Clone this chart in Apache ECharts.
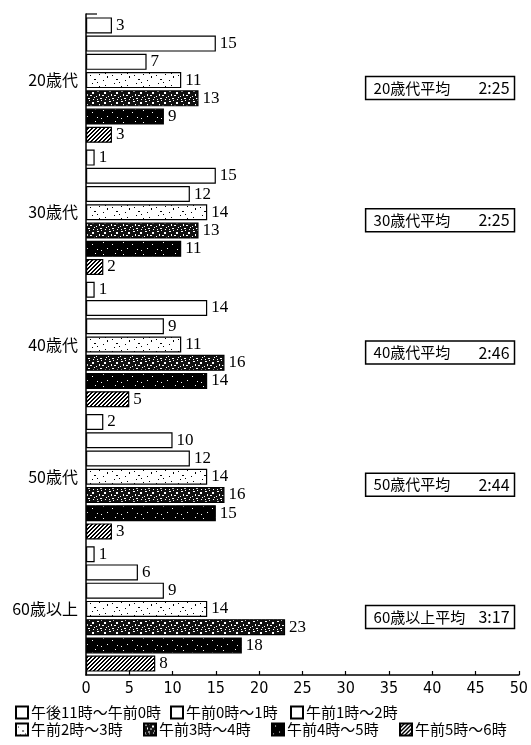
<!DOCTYPE html>
<html><head><meta charset="utf-8">
<script src="https://cdn.jsdelivr.net/npm/echarts@6/dist/echarts.min.js"></script>
<style>html,body{margin:0;padding:0;background:#fff}#chart{width:531px;height:745px}</style>
</head><body><div id="chart"></div>
<script>
// Age groups (category axis, top to bottom)
const ageGroups = ['20歳代', '30歳代', '40歳代', '50歳代', '60歳以上'];
// Time slots, one series each
const timeSlots = ['午後11時～午前0時', '午前0時～1時', '午前1時～2時', '午前2時～3時', '午前3時～4時', '午前4時～5時', '午前5時～6時'];
// Values per time slot, in age-group order
const slot2300 = [3, 1, 1, 2, 1];
const slot0000 = [15, 15, 14, 10, 6];
const slot0100 = [7, 12, 9, 12, 9];
const slot0200 = [11, 14, 11, 14, 14];
const slot0300 = [13, 13, 16, 16, 23];
const slot0400 = [9, 11, 14, 15, 18];
const slot0500 = [3, 2, 5, 3, 8];
// Average times shown in the boxes
const averageTimes = ['2:25', '2:25', '2:46', '2:44', '3:17'];
const averageCaptions = ['20歳代平均', '30歳代平均', '40歳代平均', '50歳代平均', '60歳以上平均'];
// Value axis range
const axisMin = 0, axisMax = 50, axisStep = 5;

const seriesValues = [slot2300, slot0000, slot0100, slot0200, slot0300, slot0400, slot0500];

// Small repeating fill tiles
function tile(w, h, bg, fg, pixels) {
  const c = document.createElement('canvas');
  c.width = w; c.height = h;
  const g = c.getContext('2d');
  g.fillStyle = bg; g.fillRect(0, 0, w, h);
  g.fillStyle = fg;
  pixels.forEach(p => g.fillRect(p[0], p[1], p[2] || 1, p[3] || 1));
  return { image: c, repeat: 'repeat' };
}
const lightSpeckle = tile(22, 12, '#fff', '#000',
  [[2, 3], [6, 7, 2, 1], [11, 2], [15, 8], [19, 4, 1, 2], [9, 10], [4, 11], [17, 1]]);
const darkMottle = tile(12, 10, '#111', '#fff',
  [[1, 1, 2, 1], [5, 0], [8, 2, 2, 2], [3, 4, 1, 2], [0, 6], [6, 5, 2, 1], [10, 7], [4, 8, 2, 1], [9, 9], [1, 9]]);
const darkSpeckle = tile(20, 12, '#000', '#fff',
  [[3, 2], [12, 4], [7, 8], [17, 9], [15, 1], [1, 10]]);
const hatchPixels = [];
for (let i = 0; i < 4; i++) { hatchPixels.push([i, 3 - i]); hatchPixels.push([(i + 1) % 4, 3 - i]); }
const hatch = tile(4, 4, '#fff', '#000', hatchPixels);

const fills = ['#fff', '#fff', '#fff', lightSpeckle, darkMottle, darkSpeckle, hatch];

const serifNum = '"Liberation Serif", "DejaVu Serif", serif';
const jp = '"Noto Sans CJK JP", sans-serif';

const chart = echarts.init(document.getElementById('chart'), null, { renderer: 'canvas' });

const series = timeSlots.map((name, i) => ({
  name: name,
  type: 'bar',
  data: seriesValues[i],
  barWidth: 16,
  barGap: '14%',
  itemStyle: { color: fills[i], borderColor: '#000', borderWidth: 1.2 },
  label: {
    show: true, position: 'right', distance: 4,
    color: '#000', fontFamily: serifNum, fontSize: 17
  },
  emphasis: { disabled: true },
  animation: false
}));

// Legend: two hand-placed rows, one component per entry
const legendSlots = [
  { left: 15, top: 705 }, { left: 170, top: 705 }, { left: 290, top: 705 },
  { left: 15, top: 722 }, { left: 143, top: 722 }, { left: 271, top: 722 }, { left: 399, top: 722 }
];
const legends = timeSlots.map((name, i) => ({
  orient: 'horizontal', left: legendSlots[i].left, top: legendSlots[i].top,
  itemWidth: 12, itemHeight: 12, icon: 'rect', selectedMode: false, padding: 0,
  textStyle: { fontFamily: jp, fontSize: 15, color: '#000', padding: [0, 0, 0, -2] },
  data: [name]
}));

chart.setOption({
  animation: false,
  backgroundColor: '#fff',
  grid: { left: 86, right: 11, top: 14, bottom: 70, containLabel: false },
  legend: legends,
  xAxis: {
    type: 'value', min: axisMin, max: axisMax, interval: axisStep,
    axisLine: { show: true, lineStyle: { color: '#000', width: 1.5 } },
    axisTick: { show: true, inside: true, length: 4, lineStyle: { color: '#000', width: 1.2 } },
    splitLine: { show: false },
    axisLabel: { color: '#000', fontSize: 16, margin: 6, fontFamily: '"Liberation Sans Narrow", "DejaVu Sans Condensed", sans-serif' }
  },
  yAxis: {
    type: 'category', data: ageGroups, inverse: true,
    axisLine: { show: true, lineStyle: { color: '#000', width: 1.5 } },
    axisTick: { show: false },
    axisLabel: { color: '#000', fontSize: 16, margin: 8, fontFamily: jp }
  },
  series: series
});

// Average-time boxes beside each age group, plus the small stub at the top of the axis
const graphics = [];
const boxLeft = chart.convertToPixel({ xAxisIndex: 0 }, 32.3);
const boxRight = chart.convertToPixel({ xAxisIndex: 0 }, 49.5);
ageGroups.forEach((g, i) => {
  const cy = chart.convertToPixel({ yAxisIndex: 0 }, g) + 8;
  graphics.push({
    type: 'rect', silent: true,
    shape: { x: boxLeft, y: cy - 11.5, width: boxRight - boxLeft, height: 23 },
    style: { fill: '#fff', stroke: '#000', lineWidth: 1.5 }
  });
  graphics.push({
    type: 'text', silent: true, x: boxLeft + 8, y: cy,
    style: { text: averageCaptions[i], fill: '#000', font: '15px ' + jp, verticalAlign: 'middle', align: 'left' }
  });
  graphics.push({
    type: 'text', silent: true, x: boxRight - 5, y: cy,
    style: { text: averageTimes[i], fill: '#000', font: '16px ' + jp, verticalAlign: 'middle', align: 'right' }
  });
});
const axisX0 = chart.convertToPixel({ xAxisIndex: 0 }, 0);
graphics.push({
  type: 'line', silent: true,
  shape: { x1: axisX0, y1: 14, x2: axisX0 + 11, y2: 14 },
  style: { stroke: '#000', lineWidth: 1.2 }
});
chart.setOption({ graphic: graphics });
</script>
</body></html>
